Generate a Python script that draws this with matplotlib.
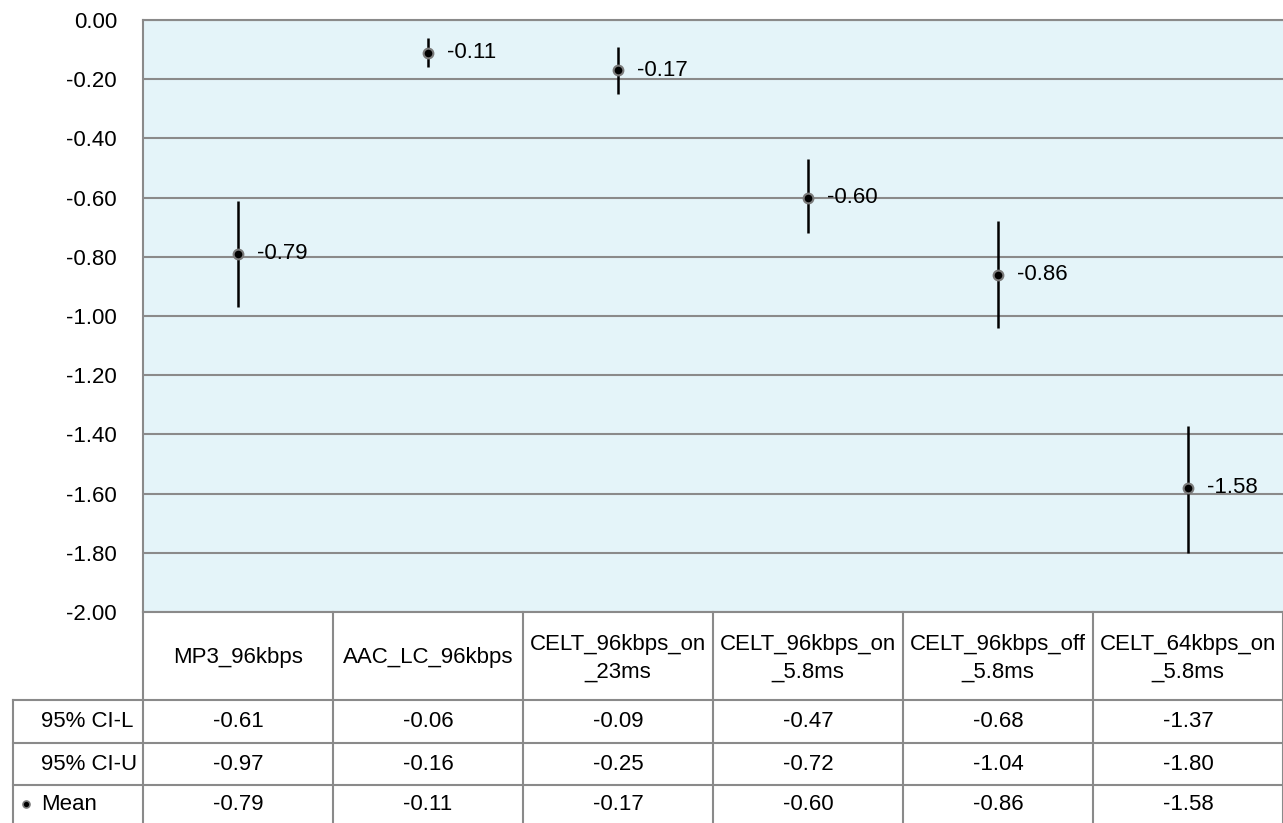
import matplotlib
matplotlib.use("Agg")
import matplotlib.pyplot as plt
from matplotlib import font_manager
import numpy as np

# ---- data -------------------------------------------------------------
codecs = [
    "MP3_96kbps",
    "AAC_LC_96kbps",
    "CELT_96kbps_on\n_23ms",
    "CELT_96kbps_on\n_5.8ms",
    "CELT_96kbps_off\n_5.8ms",
    "CELT_64kbps_on\n_5.8ms",
]
ci_low = [-0.61, -0.06, -0.09, -0.47, -0.68, -1.37]
ci_up = [-0.97, -0.16, -0.25, -0.72, -1.04, -1.80]
mean = [-0.79, -0.11, -0.17, -0.60, -0.86, -1.58]
row_labels = ["95% CI-L", "95% CI-U", "Mean"]
y_ticks = [0.0, -0.2, -0.4, -0.6, -0.8, -1.0, -1.2, -1.4, -1.6, -1.8, -2.0]

# ---- style ------------------------------------------------------------
names = {f.name for f in font_manager.fontManager.ttflist}
if "Liberation Sans Narrow" in names:
    plt.rcParams["font.family"] = ["Liberation Sans Narrow", "DejaVu Sans"]
    FS = 18.5
else:
    plt.rcParams["font.family"] = ["Liberation Sans", "DejaVu Sans"]
    FS = 16

GRID = "#8a8a8a"
BG = "#e4f4f9"
W, H = 1283, 823
PLOT_L, PLOT_T, PLOT_B = 143, 20, 612
PX = 72 / 100  # points per pixel at 100 dpi

fig = plt.figure(figsize=(W / 100, H / 100), dpi=100)

# ---- chart area -------------------------------------------------------
ax = fig.add_axes([PLOT_L / W, (H - PLOT_B) / H, (W - PLOT_L + 2) / W,
                   (PLOT_B - PLOT_T) / H])
ax.set_facecolor(BG)
x = np.arange(len(codecs))
ax.set_xlim(-0.5, len(codecs) - 0.5 + 2 / 190)
ax.set_ylim(-2.0, 0.0)
ax.set_yticks(y_ticks)
ax.set_yticklabels([f"{v:.2f}" for v in y_ticks], fontsize=FS)
ax.tick_params(axis="y", length=0, pad=26 * PX)
ax.set_xticks([])
ax.grid(axis="y", color=GRID, linewidth=1.5)
ax.set_axisbelow(True)
for side in ("left", "top", "bottom"):
    ax.spines[side].set_color(GRID)
    ax.spines[side].set_linewidth(1.5)
ax.spines["right"].set_visible(False)

ax.vlines(x, ci_up, ci_low, color="black", linewidth=1.8, zorder=3)
ax.plot(x, mean, linestyle="none", marker="o", markersize=7,
        markerfacecolor="black", markeredgecolor="#7a7a7a",
        markeredgewidth=1.5, zorder=4)
for xi, m in zip(x, mean):
    ax.annotate(f"{m:.2f}", (xi, m), xytext=(19 * PX, 0),
                textcoords="offset points", ha="left", va="center",
                fontsize=FS, color="black", zorder=5)

# ---- data table -------------------------------------------------------
TH = H - PLOT_B
tax = fig.add_axes([PLOT_L / W, 0, (W - PLOT_L + 2) / W, TH / H])
tax.set_xlim(ax.get_xlim())
tax.set_ylim(TH, 0)
tax.axis("off")

def px_to_x(px):
    return (px - PLOT_L) / 190 - 0.5

header_bottom = 700 - PLOT_B
row_edges = [header_bottom, 743 - PLOT_B, 785 - PLOT_B, TH + 6]
x_left = px_to_x(13)
line_kw = dict(color=GRID, linewidth=1.5, clip_on=False)

for k in range(len(codecs) + 1):
    tax.plot([k - 0.5, k - 0.5], [0, TH + 6], **line_kw)
tax.plot([x_left, x_left], [header_bottom, TH + 6], **line_kw)
for yb in row_edges[:-1]:
    tax.plot([x_left, len(codecs) - 0.5 + 0.05], [yb, yb], **line_kw)

for xi, name in zip(x, codecs):
    tax.text(xi, header_bottom / 2 + 2, name, ha="center", va="center",
             fontsize=FS, linespacing=1.4, color="black")

rows = [ci_low, ci_up, mean]
for r, (label, vals) in enumerate(zip(row_labels, rows)):
    yc = (row_edges[r] + row_edges[r + 1] - 6 * (r == 2)) / 2
    tax.text(px_to_x(41), yc, label, ha="left", va="center",
             fontsize=FS, color="black")
    for xi, v in zip(x, vals):
        tax.text(xi, yc, f"{v:.2f}", ha="center", va="center",
                 fontsize=FS, color="black")
    if label == "Mean":
        tax.plot([px_to_x(26)], [yc], marker="o", markersize=5,
                 markerfacecolor="black", markeredgecolor="#7a7a7a",
                 markeredgewidth=1.2, clip_on=False)

fig.savefig("out.png", dpi=100)
